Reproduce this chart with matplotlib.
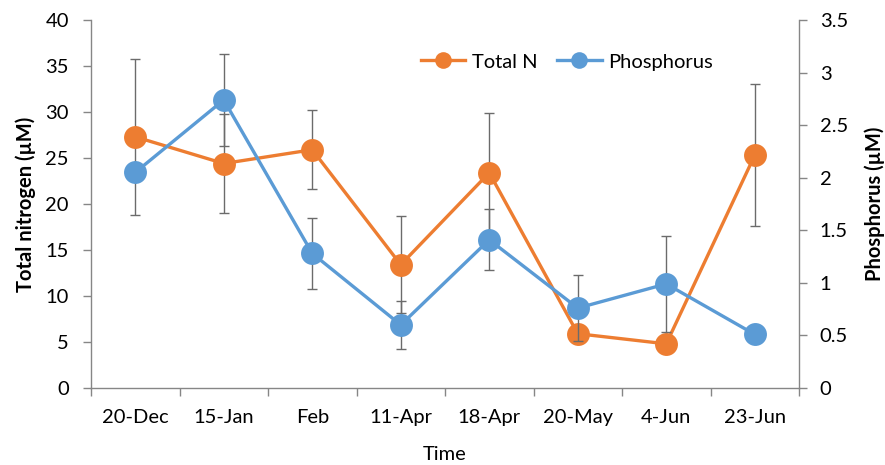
import numpy as np
import matplotlib.pyplot as plt
from matplotlib.lines import Line2D

plt.rcParams['font.family'] = ['Lato', 'DejaVu Sans']

# Data
dates = ['20-Dec', '15-Jan', 'Feb', '11-Apr', '18-Apr', '20-May', '4-Jun', '23-Jun']
total_n = [27.3, 24.4, 25.9, 13.4, 23.4, 5.9, 4.8, 25.3]
total_n_err = [8.5, 5.35, 4.3, 5.3, 6.5, 0.4, 0.4, 7.7]
phosphorus = [2.05, 2.74, 1.28, 0.60, 1.41, 0.76, 0.99, 0.51]
phosphorus_err = [0.0, 0.44, 0.34, 0.23, 0.29, 0.31, 0.46, 0.0]

orange = '#ED7D31'
blue = '#5B9BD5'
axis_grey = '#868686'
err_grey = '#6b6b6b'
fs = 14.5

x = np.arange(len(dates))

fig = plt.figure(figsize=(8.85, 4.65), dpi=100)
ax = fig.add_axes([91/885, 1 - 388/465, 708/885, 368/465])
ax2 = ax.twinx()

# nitrogen on the primary axis
ax.errorbar(x, total_n, yerr=total_n_err, fmt='none', ecolor=err_grey,
            elinewidth=1, capsize=3.6, capthick=1, zorder=1)
ax.plot(x, total_n, color=orange, lw=2.4, marker='o', ms=16.5,
        markeredgewidth=0, zorder=2)

# phosphorus on the secondary axis
ax2.errorbar(x, phosphorus, yerr=phosphorus_err, fmt='none', ecolor=err_grey,
             elinewidth=1, capsize=3.6, capthick=1, zorder=1)
ax2.plot(x, phosphorus, color=blue, lw=2.4, marker='o', ms=16.5,
         markeredgewidth=0, zorder=2)

ax.set_xlim(-0.5, len(dates) - 0.5)
ax.set_ylim(0, 40)
ax2.set_ylim(0, 3.5)
ax.set_yticks(np.arange(0, 41, 5))
ax2.set_yticks(np.arange(0, 3.6, 0.5))
ax2.set_yticklabels(['0', '0.5', '1', '1.5', '2', '2.5', '3', '3.5'])

# category boundaries get the tick marks, centres get the labels
ax.set_xticks(np.arange(-0.5, len(dates), 1.0))
ax.set_xticklabels([])
ax.set_xticks(x, minor=True)
ax.set_xticklabels(dates, minor=True)
ax.tick_params(axis='x', which='major', length=6, width=1, color=axis_grey)
ax.tick_params(axis='x', which='minor', length=0, pad=15, labelsize=fs)
ax.tick_params(axis='y', length=6, width=1, color=axis_grey, pad=10, labelsize=fs)
ax2.tick_params(axis='y', length=6, width=1, color=axis_grey, pad=9, labelsize=fs)

for a in (ax, ax2):
    a.spines['top'].set_visible(False)
    for s in ('left', 'right', 'bottom'):
        a.spines[s].set_color(axis_grey)
        a.spines[s].set_linewidth(1)
ax.spines['right'].set_visible(False)
ax2.spines['left'].set_visible(False)
ax2.spines['bottom'].set_visible(False)

ax.set_ylabel('Total nitrogen (µM)', fontsize=fs, fontweight='bold')
ax.yaxis.set_label_coords(-0.078, 0.5)
ax2.set_ylabel('Phosphorus (µM)', fontsize=fs, fontweight='bold')
ax2.yaxis.set_label_coords(1.093, 0.5)
ax.set_xlabel('Time', fontsize=fs)
ax.xaxis.set_label_coords(0.5, -0.158)

handles = [Line2D([], [], color=orange, lw=2.4, marker='o', ms=12, mew=0),
           Line2D([], [], color=blue, lw=2.4, marker='o', ms=12, mew=0)]
ax2.legend(handles, ['Total N', 'Phosphorus'], loc='center',
           bbox_to_anchor=(0.672, 0.886), ncol=2, frameon=False,
           fontsize=fs, handlelength=2.2, handletextpad=0.3, columnspacing=1.0)

fig.savefig('out.png', dpi=100)
